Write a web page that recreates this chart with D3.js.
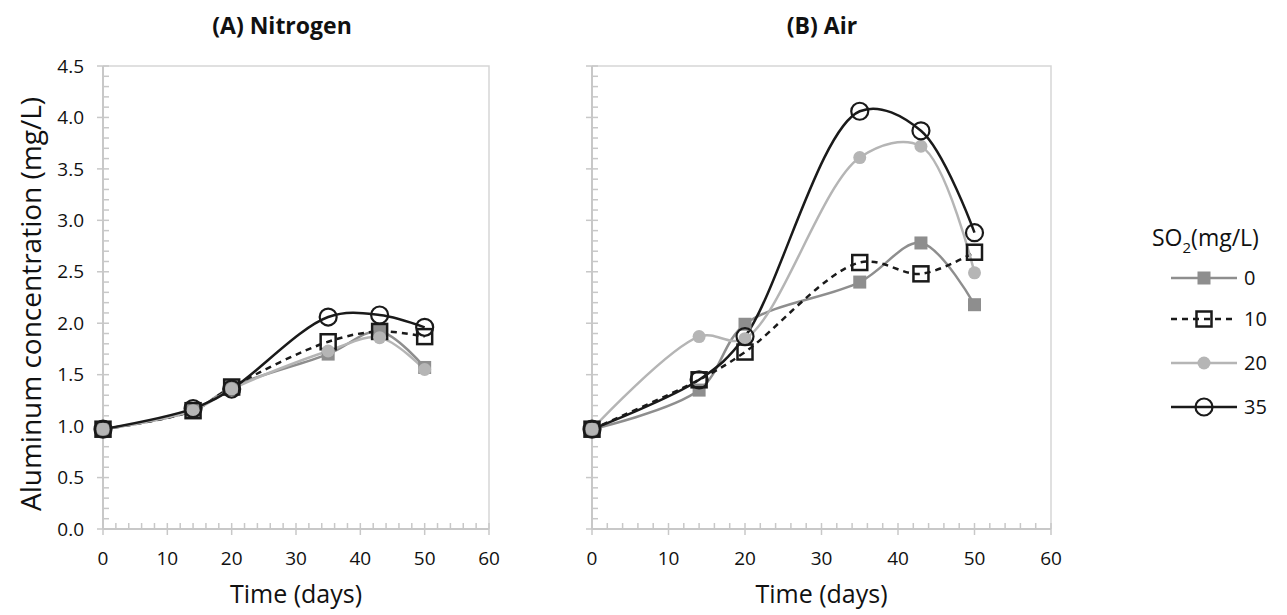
<!DOCTYPE html>
<html>
<head>
<meta charset="utf-8">
<script src="https://cdn.jsdelivr.net/npm/d3@7"></script>
<style>
  body { margin: 0; background: #fff; }
  text { font-family: "Open Sans", sans-serif; fill: #111; }
</style>
</head>
<body>
<div id="chart"></div>
<script>
// data
const days = [0, 14, 20, 35, 43, 50];
const so2Levels = ['0', '10', '20', '35'];

const nitrogen0  = [0.97, 1.15, 1.38, 1.70, 1.92, 1.57];
const nitrogen10 = [0.97, 1.15, 1.38, 1.82, 1.92, 1.87];
const nitrogen20 = [0.97, 1.15, 1.36, 1.73, 1.86, 1.55];
const nitrogen35 = [0.97, 1.17, 1.36, 2.06, 2.08, 1.96];

const air0  = [0.97, 1.35, 1.99, 2.40, 2.78, 2.18];
const air10 = [0.97, 1.45, 1.72, 2.59, 2.48, 2.69];
const air20 = [0.97, 1.87, 1.85, 3.61, 3.72, 2.49];
const air35 = [0.97, 1.45, 1.87, 4.06, 3.87, 2.88];

const xTicks = [0, 10, 20, 30, 40, 50, 60];
const yTicks = [0.0, 0.5, 1.0, 1.5, 2.0, 2.5, 3.0, 3.5, 4.0, 4.5];

// styles per SO2 level
const styles = {
  '0':  { color: '#8e8e8e', dash: null,  marker: 'square', fill: '#8e8e8e' },
  '10': { color: '#1a1a1a', dash: '6,5', marker: 'square', fill: 'none' },
  '20': { color: '#b5b5b5', dash: null,  marker: 'circle', fill: '#b5b5b5' },
  '35': { color: '#1a1a1a', dash: null,  marker: 'circle', fill: 'none' }
};

const panels = [
  { title: '(A) Nitrogen', left: 103, right: 489, titleX: 282, yLabels: true,
    series: [nitrogen0, nitrogen10, nitrogen20, nitrogen35] },
  { title: '(B) Air', left: 592, right: 1051, titleX: 822, yLabels: false,
    series: [air0, air10, air20, air35] }
];

const plotTop = 66, plotBottom = 529;
const axisColor = '#c8c8c8';

const svg = d3.select('#chart')
  .append('svg')
    .attr('width', 1287)
    .attr('height', 615);

const y = d3.scaleLinear().domain([0, 4.5]).range([plotBottom, plotTop]);

panels.forEach(p => {
  const x = d3.scaleLinear().domain([0, 60]).range([p.left, p.right]);
  const g = svg.append('g');

  // frame (top and right)
  g.append('path')
    .attr('d', `M${p.left},${plotTop}H${p.right}V${plotBottom}`)
    .attr('fill', 'none')
    .attr('stroke', '#d6d6d6')
    .attr('stroke-width', 1.5);

  // y axis with minor ticks
  const yMinor = d3.range(0, 45).map(i => i / 10).filter((v, i) => i % 5 !== 0);
  g.append('line')
    .attr('x1', p.left).attr('x2', p.left)
    .attr('y1', plotTop).attr('y2', plotBottom)
    .attr('stroke', axisColor).attr('stroke-width', 2);
  g.selectAll('.ymaj').data(yTicks).enter().append('line')
    .attr('x1', p.left - 6).attr('x2', p.left + 6)
    .attr('y1', d => y(d)).attr('y2', d => y(d))
    .attr('stroke', axisColor).attr('stroke-width', 1.5);
  g.selectAll('.ymin').data(yMinor).enter().append('line')
    .attr('x1', p.left).attr('x2', p.left + 6)
    .attr('y1', d => y(d)).attr('y2', d => y(d))
    .attr('stroke', axisColor).attr('stroke-width', 1.5);
  if (p.yLabels) {
    g.selectAll('.ylab').data(yTicks).enter().append('text')
      .attr('x', p.left - 19)
      .attr('y', d => y(d))
      .attr('dy', '0.35em')
      .attr('text-anchor', 'end')
      .style('font-size', '19px')
      .text(d => d.toFixed(1));
  }

  // x axis with minor ticks
  const xMinor = d3.range(0, 61, 2).filter(v => v % 10 !== 0);
  g.append('line')
    .attr('x1', p.left).attr('x2', p.right)
    .attr('y1', plotBottom).attr('y2', plotBottom)
    .attr('stroke', axisColor).attr('stroke-width', 2);
  g.selectAll('.xmaj').data(xTicks).enter().append('line')
    .attr('x1', d => x(d)).attr('x2', d => x(d))
    .attr('y1', plotBottom - 6).attr('y2', plotBottom + 6)
    .attr('stroke', axisColor).attr('stroke-width', 1.5);
  g.selectAll('.xmin').data(xMinor).enter().append('line')
    .attr('x1', d => x(d)).attr('x2', d => x(d))
    .attr('y1', plotBottom - 6).attr('y2', plotBottom)
    .attr('stroke', axisColor).attr('stroke-width', 1.5);
  g.selectAll('.xlab').data(xTicks).enter().append('text')
    .attr('x', d => x(d))
    .attr('y', plotBottom + 36)
    .attr('text-anchor', 'middle')
    .style('font-size', '19px')
    .text(d => d);

  // axis title and panel title
  g.append('text')
    .attr('x', (p.left + p.right) / 2)
    .attr('y', 603)
    .attr('text-anchor', 'middle')
    .style('font-size', '25px')
    .text('Time (days)');
  g.append('text')
    .attr('x', p.titleX)
    .attr('y', 34)
    .attr('text-anchor', 'middle')
    .style('font-size', '23px')
    .style('font-weight', 'bold')
    .text(p.title);

  // series lines then markers
  const line = d3.line()
    .x((d, i) => x(days[i]))
    .y(d => y(d))
    .curve(d3.curveCatmullRom.alpha(0.5));

  so2Levels.forEach((lvl, k) => {
    const s = styles[lvl];
    g.append('path')
      .datum(p.series[k])
      .attr('d', line)
      .attr('fill', 'none')
      .attr('stroke', s.color)
      .attr('stroke-width', 2.5)
      .attr('stroke-dasharray', s.dash);
  });

  so2Levels.forEach((lvl, k) => {
    const s = styles[lvl];
    drawMarkers(g, p.series[k].map((v, i) => [x(days[i]), y(v)]), s);
  });
});

function drawMarkers(g, pts, s) {
  pts.forEach(([px, py]) => {
    if (s.marker === 'square') {
      const size = s.fill === 'none' ? 15 : 13;
      g.append('rect')
        .attr('x', px - size / 2).attr('y', py - size / 2)
        .attr('width', size).attr('height', size)
        .attr('fill', s.fill === 'none' ? 'none' : s.fill)
        .attr('stroke', s.fill === 'none' ? s.color : 'none')
        .attr('stroke-width', 2.5);
    } else {
      g.append('circle')
        .attr('cx', px).attr('cy', py)
        .attr('r', s.fill === 'none' ? 8.5 : 6.5)
        .attr('fill', s.fill === 'none' ? 'none' : s.fill)
        .attr('stroke', s.fill === 'none' ? s.color : 'none')
        .attr('stroke-width', 2.2);
    }
  });
}

// y axis title
svg.append('text')
  .attr('transform', 'translate(41,304) rotate(-90)')
  .attr('text-anchor', 'middle')
  .style('font-size', '28px')
  .text('Aluminum concentration (mg/L)');

// legend
const legend = svg.append('g');
const legendTitle = legend.append('text')
  .attr('x', 1152)
  .attr('y', 246)
  .style('font-size', '23px');
legendTitle.append('tspan').text('SO');
legendTitle.append('tspan').attr('dy', 7).style('font-size', '15px').text('2');
legendTitle.append('tspan').attr('dy', -7).text('(mg/L)');

const legendY = [278, 319, 363, 407];
so2Levels.forEach((lvl, k) => {
  const s = styles[lvl];
  legend.append('line')
    .attr('x1', 1171).attr('x2', 1237)
    .attr('y1', legendY[k]).attr('y2', legendY[k])
    .attr('stroke', s.color)
    .attr('stroke-width', 2.5)
    .attr('stroke-dasharray', s.dash);
  drawMarkers(legend, [[1204, legendY[k]]], s);
  legend.append('text')
    .attr('x', 1244)
    .attr('y', legendY[k])
    .attr('dy', '0.35em')
    .style('font-size', '20px')
    .text(lvl);
});
</script>
</body>
</html>
